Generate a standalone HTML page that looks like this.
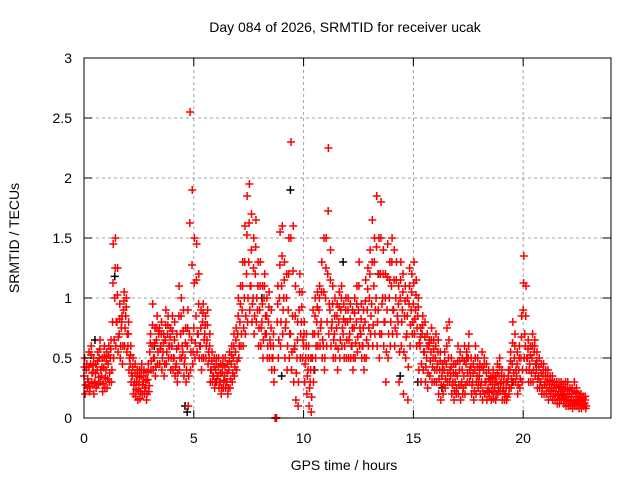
<!DOCTYPE html>
<html><head><meta charset="utf-8"><style>
body{margin:0;background:#fff;}
svg text{font-family:"Liberation Sans",sans-serif;font-size:14px;fill:#000;}
</style></head><body>
<svg id="chart" width="640" height="480">
<rect width="640" height="480" fill="#fff"/>
<text x="345" y="32" text-anchor="middle">Day 084 of 2026, SRMTID for receiver ucak</text>
<text x="344" y="470" text-anchor="middle">GPS time / hours</text>
<text transform="translate(19,238) rotate(-90)" text-anchor="middle">SRMTID / TECUs</text>
<g id="grid"></g><g id="marks"></g><g id="axes"></g>
</svg>
<script>
const xTicks=[0,5,10,15,20];
const yTicks=[0,0.5,1,1.5,2,2.5,3];
const yTickLabels=["0","0.5","1","1.5","2","2.5","3"];
const startHour=0, stepHour=0.1;
const srmtidA=[.35,.4,.3,.45,.38,.3,.4,.5,.35,.42,
.4,.45,.5,.8,1.0,.8,.7,.75,.9,.85,
.6,.45,.35,.3,.3,.28,.35,.3,.25,.32,
.55,.6,.5,.65,.7,.6,.55,.65,.7,.6,
.6,.5,.45,.6,.7,.55,.5,.6,.7,.65,
.75,.85,.7,.6,.8,.7,.65,.5,.4,.35,
.4,.35,.3,.38,.35,.3,.4,.45,.5,.55,
.7,.8,.9,1.0,1.2,1.3,1.1,1.0,1.2,.9,
.9,.8,1.0,.7,.8,.6,.5,0,.8,1.0,
1.1,1.0,.8,.9,.7,.85,.6,.5,.9,.8,
.6,.5,.4,.3,.5,.7,.8,.9,.8,.6,
1.0,1.2,.9,.8,.7,.75,.8,.9,.7,.8,
.8,.7,.6,.75,.8,.9,.7,.6,.8,.9,
1.0,.95,1.1,1.0,.9,1.2,1.0,.8,.9,1.0,
1.1,.9,1.0,.8,1.0,.9,.85,.7,.95,.9,
.95,.9,.85,.6,.7,.55,.5,.6,.55,.5,
.5,.45,.4,.35,.4,.45,.5,.35,.3,.3,
.35,.4,.3,.35,.45,.5,.35,.3,.4,.35,
.35,.3,.4,.3,.25,.3,.28,.25,.3,.35,
.3,.25,.2,.3,.4,.45,.5,.35,.4,.5,
.9,.6,.5,.45,.5,.55,.4,.35,.3,.35,
.3,.3,.28,.25,.25,.25,.2,.22,.2,.2,
.18,.2,.15,.15,.18,.15,.15,.15,.12];
const srmtidB=[.2,.25,.22,.3,.2,.25,.28,.3,.22,.25,
.25,.3,.3,.5,.6,.55,.5,.45,.6,.55,
.4,.3,.2,.18,.15,.16,.2,.2,.15,.22,
.4,.4,.35,.45,.45,.4,.35,.45,.5,.4,
.4,.35,.3,.4,.5,.35,.3,.1,.4,.45,
.5,.55,.5,.4,.5,.5,.45,.3,.3,.25,
.3,.25,.2,.25,.25,.2,.25,.3,.35,.4,
.5,.6,.6,.7,.8,.9,.8,.7,.8,.6,
.6,.5,.7,.5,.5,.4,.3,0,.5,.6,
.7,.5,.4,.5,.4,.3,.15,.1,.5,.5,
.3,.2,.1,.05,.3,.5,.6,.6,.5,.4,
.6,.7,.6,.5,.5,.4,.5,.6,.5,.5,
.5,.5,.4,.5,.55,.6,.5,.4,.5,.6,
.7,.6,.7,.6,.5,.7,.6,.3,.5,.6,
.7,.6,.7,.3,.6,.2,.5,.15,.6,.7,
.7,.6,.4,.3,.4,.3,.25,.35,.3,.3,
.3,.2,.15,.2,.25,.3,.3,.2,.15,.2,
.2,.15,.2,.2,.3,.3,.2,.15,.2,.25,
.2,.15,.2,.15,.18,.15,.16,.15,.2,.22,
.15,.15,.15,.2,.25,.3,.3,.2,.25,.3,
.5,.4,.3,.3,.3,.35,.25,.25,.2,.2,
.2,.15,.18,.15,.15,.12,.12,.15,.12,.1,
.1,.1,.08,.1,.1,.08,.08,.1,.08];
const srmtidC=[.5,.45,.55,.6,.5,.45,.55,.65,.5,.6,
.55,.6,.65,1.45,1.5,1.25,.95,.85,1.05,1.0,
.8,.6,.5,.45,.4,.4,.45,.4,.38,.45,
.7,.95,.75,.85,.75,.8,.7,.9,.85,.75,
.85,.8,.7,1.1,1.0,.9,.75,.9,2.55,1.9,
1.5,1.45,1.2,.9,.95,.85,.9,.7,.55,.5,
.5,.5,.45,.5,.5,.45,.55,.6,.7,.75,
1.0,1.1,1.3,1.6,1.85,1.95,1.7,1.5,1.65,1.3,
1.3,1.1,1.2,1.0,1.05,.9,.7,0,1.1,1.55,
1.6,1.3,1.2,1.5,2.3,1.6,1.1,.8,1.2,1.05,
.8,.7,.6,.5,.9,1.0,1.05,1.1,1.3,1.5,
1.5,2.25,1.4,1.1,1.0,.95,1.05,1.1,.95,1.0,
1.0,.95,.9,1.0,1.1,1.3,.95,.9,1.15,1.25,
1.4,1.65,1.5,1.85,1.5,1.8,1.4,1.2,1.45,1.3,
1.5,1.4,1.3,1.1,1.3,1.2,1.1,1.0,1.25,1.2,
1.3,1.15,1.0,.75,.85,.8,.7,.65,.75,.65,
.7,.65,.55,.45,.55,.75,.8,.5,.45,.45,
.6,.55,.5,.6,.55,.7,.5,.45,.6,.5,
.45,.55,.5,.45,.4,.35,.4,.35,.45,.5,
.4,.35,.3,.4,.55,.8,.7,.55,.6,.85,
1.35,1.1,.65,.6,.7,.65,.55,.5,.45,.45,
.4,.4,.35,.35,.3,.3,.3,.3,.28,.3,
.3,.25,.25,.3,.25,.2,.2,.18,.18];
const blackHours=[0.5,1.4,3.2,4.6,4.7,6.0,8.1,9.0,9.4,10.5,11.8,12.6,13.4,14.4,15.2,16.3,18.0,19.5,20.6,21.8,22.5];
const blackVals=[.65,1.18,.6,.1,.05,.3,1.0,.35,1.9,.4,1.3,.7,1.2,.35,.3,.25,.35,.3,.45,.2,.15];

const NS="http://www.w3.org/2000/svg";
const L=84,R=611,T=58,B=418;
const xs=h=>L+h*(R-L)/24;
const ys=v=>B-v*(B-T)/3;
const grid=document.getElementById('grid'),marks=document.getElementById('marks'),axes=document.getElementById('axes');
function mk(tag,attrs,parent){const e=document.createElementNS(NS,tag);for(const k in attrs)e.setAttribute(k,attrs[k]);parent.appendChild(e);return e;}
yTicks.forEach((v,i)=>{
  if(v>0&&v<3){const g=mk('line',{x1:L,x2:R,y1:ys(v),y2:ys(v),stroke:'#a0a0a0','stroke-dasharray':'3,3'},grid);
  
  }
  const t1=mk('line',{x1:L,x2:L+8,y1:ys(v),y2:ys(v),stroke:'#000'},axes);
  
  
  mk('line',{x1:R-8,x2:R,y1:ys(v),y2:ys(v),stroke:'#000'},axes);
  const tx=mk('text',{x:L-12,y:ys(v)+5,'text-anchor':'end'},axes);tx.textContent=yTickLabels[i];
  
  
});
xTicks.forEach(h=>{
  if(h>0){const g=mk('line',{x1:xs(h),x2:xs(h),y1:T,y2:B,stroke:'#a0a0a0','stroke-dasharray':'3,3'},grid);
  
  }
  const t1=mk('line',{x1:xs(h),x2:xs(h),y1:B,y2:B-8,stroke:'#000'},axes);
  
  
  mk('line',{x1:xs(h),x2:xs(h),y1:T,y2:T+8,stroke:'#000'},axes);
  const tx=mk('text',{x:xs(h),y:B+25,'text-anchor':'middle'},axes);tx.textContent=String(h);
  
  
});
const fr=mk('rect',{x:L,y:T,width:R-L,height:B-T,fill:'none',stroke:'#000'},axes);


function plus(h,v,col){
  const x=xs(h),y=ys(v);
  const p=mk('path',{d:`M${x-4} ${y}H${x+4}M${x} ${y-4}V${y+4}`,stroke:col,'stroke-width':1.5,fill:'none'},marks);
  
  
}
blackHours.forEach((h,i)=>plus(h,blackVals[i],'#000'));
srmtidA.forEach((v,i)=>{const h=startHour+i*stepHour;
  plus(h,v,'#ff0000');
  plus(h+0.05,srmtidB[i],'#ff0000');
  plus(h+0.03,srmtidC[i],'#ff0000');
  plus(h+0.07,(v+srmtidB[i])/2,'#ff0000');
  plus(h+0.02,(v+srmtidC[i])/2,'#ff0000');
});
</script>
</body></html>
